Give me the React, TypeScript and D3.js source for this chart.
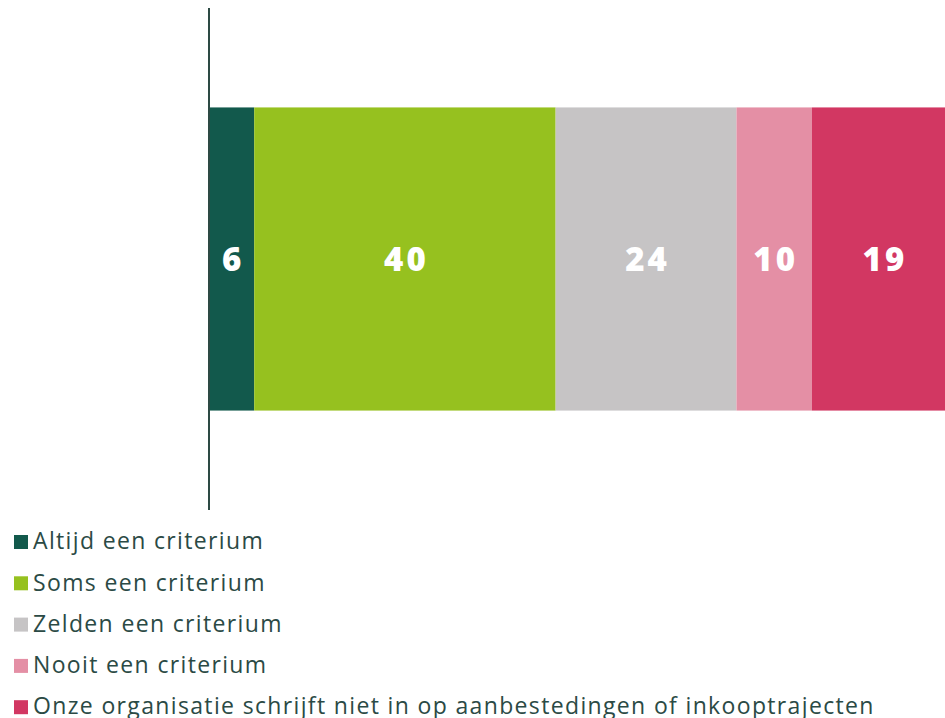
import { useEffect, useRef } from 'react';
import * as d3 from 'd3';

const categories = [
  'Altijd een criterium',
  'Soms een criterium',
  'Zelden een criterium',
  'Nooit een criterium',
  'Onze organisatie schrijft niet in op aanbestedingen of inkooptrajecten',
];
const values = [6, 40, 24, 10, 19];
const colors = ['#12594c', '#96c11f', '#c6c4c5', '#e48fa5', '#d23762'];

const WIDTH = 945;
const HEIGHT = 718;

export default function App() {
  const svgRef = useRef<SVGSVGElement>(null);

  useEffect(() => {
    const svg = d3.select(svgRef.current);
    svg.selectAll('*').remove();

    const plotLeft = 209;
    const x = d3.scaleLinear().domain([0, 99]).range([plotLeft, 955]);
    const y = d3.scaleBand().domain(['row']).range([8, 510]).paddingInner(0).paddingOuter(0.328);

    // stacked segments
    let acc = 0;
    const segs = values.map((v, i) => {
      const s = { start: acc, end: acc + v, value: v, color: colors[i] };
      acc += v;
      return s;
    });

    const g = svg.append('g');
    g.selectAll('rect')
      .data(segs)
      .enter()
      .append('rect')
      .attr('x', d => x(d.start))
      .attr('y', y('row')!)
      .attr('width', d => x(d.end) - x(d.start))
      .attr('height', y.bandwidth())
      .attr('fill', d => d.color);

    g.selectAll('text')
      .data(segs)
      .enter()
      .append('text')
      .attr('x', d => (x(d.start) + x(d.end)) / 2 + 1.5)
      .attr('y', y('row')! + y.bandwidth() / 2)
      .attr('dy', '0.36em')
      .attr('text-anchor', 'middle')
      .attr('fill', '#ffffff')
      .attr('font-family', 'Open Sans, sans-serif')
      .attr('font-weight', 800)
      .attr('font-size', 33)
      .attr('letter-spacing', 3)
      .text(d => d.value);

    // vertical axis line
    svg.append('line')
      .attr('x1', plotLeft).attr('x2', plotLeft)
      .attr('y1', 8).attr('y2', 510)
      .attr('stroke', '#2d4a44')
      .attr('stroke-width', 2);

    // legend
    const legend = svg.append('g').attr('transform', 'translate(14,0)');
    const items = legend.selectAll('g')
      .data(categories)
      .enter()
      .append('g')
      .attr('transform', (_d, i) => `translate(0,${541 + i * 41.3})`);
    items.append('rect')
      .attr('x', 0).attr('y', -6)
      .attr('width', 14).attr('height', 14)
      .attr('fill', (_d, i) => colors[i]);
    items.append('text')
      .attr('x', 19)
      .attr('y', 0)
      .attr('dy', '0.36em')
      .attr('fill', '#2b4a45')
      .attr('font-family', 'Open Sans, sans-serif')
      .attr('font-size', 23)
      .attr('letter-spacing', 1.35)
      .text(d => d);
  }, []);

  return (
    <svg
      ref={svgRef}
      width={WIDTH}
      height={HEIGHT}
      style={{ position: 'absolute', left: 0, top: 0, overflow: 'hidden' }}
    />
  );
}
